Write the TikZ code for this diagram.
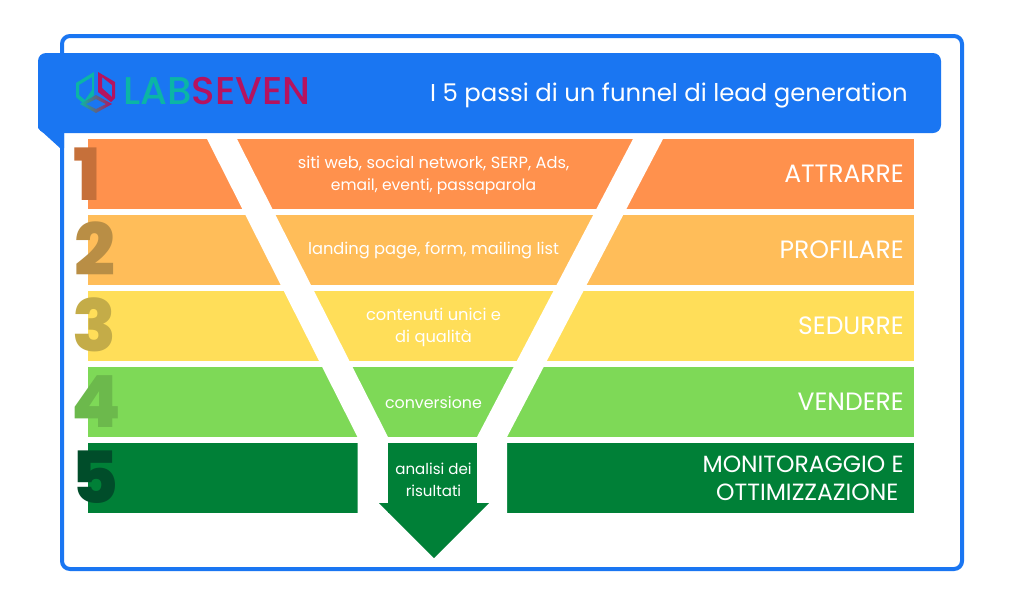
\documentclass[tikz,border=0pt]{standalone}
\usepackage{fontspec}
\setmainfont{Poppins}
\newfontfamily\numfont{Poppins ExtraBold}
\newfontfamily\logofont{Poppins Medium}
\usetikzlibrary{shadings}
\definecolor{hdr}{HTML}{1A76F2}
\definecolor{bandA}{HTML}{FF914D}
\definecolor{bandB}{HTML}{FFBD59}
\definecolor{bandC}{HTML}{FFDE59}
\definecolor{bandD}{HTML}{7ED957}
\definecolor{bandE}{HTML}{008037}
\definecolor{numA}{HTML}{C6703A}
\definecolor{numB}{HTML}{B98E45}
\definecolor{numC}{HTML}{C4AC48}
\definecolor{numD}{HTML}{6CB94C}
\definecolor{numE}{HTML}{004D2A}
\definecolor{lteal}{HTML}{0BB5A5}
\definecolor{lred}{HTML}{B5135F}
\tikzset{
  x=0.75pt,y=-0.75pt,
  sidelabel/.style={text=white,font=\fontsize{18.8}{21}\selectfont,anchor=base east,align=right,inner sep=0pt},
  midlabel/.style={text=white,font=\fontsize{12.2}{16.5}\selectfont,align=center,inner sep=0pt},
  stepnum/.style={font=\numfont\fontsize{54}{54}\selectfont,anchor=base,inner sep=0pt}
}
\begin{document}
\begin{tikzpicture}
\useasboundingbox (0,0) rectangle (1024,600);
\fill[white] (0,0) rectangle (1024,600);
% frame
\draw[hdr,line width=3pt,rounded corners=6pt,fill=white] (62,36) rectangle (962,569);
% header
\fill[hdr,rounded corners=6pt] (38,53) rectangle (941,133);
\fill[hdr] (38,100) -- (64,100) -- (64,148) -- (60,148) -- (38,128) -- cycle;
% bands
\fill[bandA] (88,139) rectangle (914,209);
\fill[bandB] (88,215) rectangle (914,285);
\fill[bandC] (88,291) rectangle (914,361);
\fill[bandD] (88,367) rectangle (914,437);
\fill[bandE] (88,443) rectangle (914,513);
% funnel
\fill[white] (207,139) -- (237,139) -- (388,437) -- (388,514) -- (357.5,514) -- (357.5,437) -- cycle;
\fill[white] (633,139) -- (663,139) -- (507,437) -- (507,514) -- (477,514) -- (477,437) -- cycle;
\fill[white] (388,513) rectangle (477,514);
% arrow
\fill[bandE] (388,443) -- (476.5,443) -- (476.5,503) -- (489,503) -- (434,558) -- (379,503) -- (388,503) -- cycle;
% digits
\node[stepnum,text=numA] (n1) at (87,200) {1};
\node[stepnum,text=numB] (n2) at (95,275) {2};
\node[stepnum,text=numC] (n3) at (94.5,351) {3};
\node[stepnum,text=numD] (n4) at (96.5,427) {4};
\node[stepnum,text=numE] (n5) at (95.5,503) {5};
% logo
\fill[lteal,even odd rule] (94,72) -- (76,83) -- (76,97) -- (85,105) -- (94,95) -- cycle
   (92,77) -- (79,85) -- (79,95) -- (85,100) -- (92,90) -- cycle;
\fill[lred,even odd rule] (98,72) -- (115,82) -- (115,98) -- (111,102) -- (98,92) -- cycle
   (102,77) -- (112,85) -- (112,97) -- (102,88) -- cycle;
\shade[left color=lteal,right color=lred,even odd rule] (96,95) -- (112,104) -- (96,113) -- (80,104) -- cycle
   (96,99) -- (106,104) -- (96,109) -- (86,104) -- cycle;
\node[anchor=base west,inner sep=0pt,font=\logofont\fontsize{29}{30}\selectfont] (logo) at (123,104) {\textcolor{lteal}{LAB}\textcolor{lred}{SEVEN}};
% title
\node[anchor=base east,inner sep=0pt,text=white,font=\fontsize{18.27}{21}\selectfont] (title) at (908,101) {I 5 passi di un funnel di lead generation};
% side labels
\node[sidelabel] (s1) at (904,182) {ATTRARRE};
\node[sidelabel] (s2) at (904,258) {PROFILARE};
\node[sidelabel] (s3) at (904,334) {SEDURRE};
\node[sidelabel] (s4) at (904,410) {VENDERE};
\node[sidelabel,anchor=east,font=\fontsize{17.6}{21}\selectfont] (s5) at (904,478.5) {MONITORAGGIO E\\OTTIMIZZAZIONE\hspace*{4pt}};
% funnel labels
\node[midlabel] (m1) at (433.5,175.5) {siti web, social network, SERP, Ads,\\{\fontsize{11.7}{16.5}\selectfont email, eventi, passaparola}};
\node[midlabel] (m2) at (433.5,250.5) {landing page, form, mailing list};
\node[midlabel] (m3) at (433.5,327.5) {contenuti unici e\\di qualità};
\node[midlabel,font=\fontsize{11.9}{16.5}\selectfont] (m4) at (433.5,403) {conversione};
\node[midlabel,font=\fontsize{11.3}{16.5}\selectfont] (m5) at (433.5,479.5) {analisi dei\\risultati};
\end{tikzpicture}
\end{document}
